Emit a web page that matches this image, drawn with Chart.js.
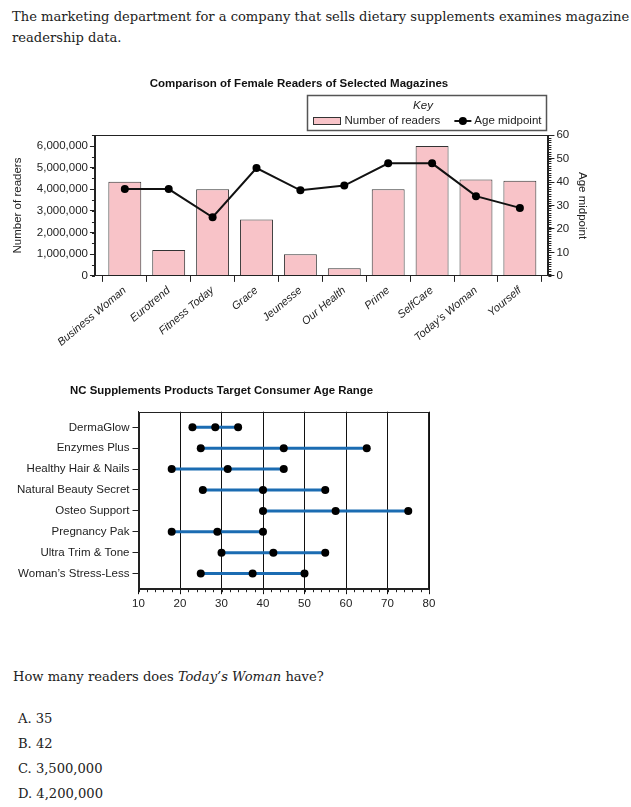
<!DOCTYPE html>
<html>
<head>
<meta charset="utf-8">
<script src="https://cdn.jsdelivr.net/npm/chart.js@4.4.1/dist/chart.umd.min.js"></script>
<style>
  body { margin: 0; background: #fff; width: 631px; height: 807px; position: relative; overflow: hidden;
         font-family: "DejaVu Serif", Georgia, serif; color: #222; }
  .intro { position: absolute; left: 12px; top: 6px; font-size: 13.1px; line-height: 21px; white-space: nowrap; }
  .question { position: absolute; left: 13px; top: 666px; font-size: 13.1px; line-height: 21px; }
  .options { position: absolute; left: 18px; top: 706px; font-size: 13.1px; line-height: 25px; }
  #readersChart { position: absolute; left: 0; top: 70px; }
  #ageChart { position: absolute; left: 0; top: 380px; }
</style>
</head>
<body>
<div class="intro">The marketing department for a company that sells dietary supplements examines magazine<br>readership data.</div>
<canvas id="readersChart" width="606" height="285"></canvas>
<canvas id="ageChart" width="452" height="240"></canvas>
<div class="question">How many readers does <i>Today’s Woman</i> have?</div>
<div class="options">A. 35<br>B. 42<br>C. 3,500,000<br>D. 4,200,000</div>

<script>
// magazine readership
const magazines = ['Business Woman', 'Eurotrend', 'Fitness Today', 'Grace', 'Jeunesse',
                   'Our Health', 'Prime', 'SelfCare', 'Today’s Woman', 'Yourself'];
const readers = [4350000, 1200000, 4000000, 2600000, 1000000, 350000, 4000000, 6000000, 4450000, 4400000];
const ageMidpoints = [37, 37, 25, 46, 36.5, 38.5, 48, 48, 34, 29];
const readerTicks = [0, 1000000, 2000000, 3000000, 4000000, 5000000, 6000000];

// target age ranges
const products = ['DermaGlow', 'Enzymes Plus', 'Healthy Hair & Nails', 'Natural Beauty Secret',
                  'Osteo Support', 'Pregnancy Pak', 'Ultra Trim & Tone', 'Woman’s Stress-Less'];
const minAge = [23, 25, 18, 25.5, 40, 18, 30, 25];
const midAge = [28.5, 45, 31.5, 40, 57.5, 29, 42.5, 37.5];
const maxAge = [34, 65, 45, 55, 75, 40, 55, 50];

const SANS = '"Liberation Sans", Arial, sans-serif';
Chart.defaults.font.family = SANS;
Chart.defaults.color = '#222';

// box round the plot area
const frame = {
  id: 'frame',
  afterDraw(chart) {
    const { ctx, chartArea: a } = chart;
    ctx.save();
    ctx.strokeStyle = '#222';
    ctx.lineWidth = 1;
    const l = Math.round(a.left) + 0.5, t = Math.round(a.top) + 0.5;
    const r = Math.round(a.right) - 0.5, b = Math.round(a.bottom) - 0.5;
    ctx.strokeRect(l, t, r - l, b - t);
    ctx.restore();
  }
};

// small unlabelled ticks between the major ones
const minorTicks = {
  id: 'minorTicks',
  afterDraw(chart, args, opts) {
    const { ctx, chartArea: a } = chart;
    ctx.save();
    ctx.strokeStyle = '#222';
    ctx.lineWidth = 1;
    ctx.beginPath();
    (opts.list || []).forEach(m => {
      const s = chart.scales[m.scale];
      for (let v = s.min; v <= s.max + 1e-9; v += m.step) {
        const p = Math.round(s.getPixelForValue(v)) + 0.5;
        if (s.isHorizontal()) {
          ctx.moveTo(p, a.bottom); ctx.lineTo(p, a.bottom + m.len);
        } else if (s.position === 'left') {
          ctx.moveTo(a.left, p); ctx.lineTo(a.left - m.len, p);
        } else {
          ctx.moveTo(a.right, p); ctx.lineTo(a.right + m.len, p);
        }
      }
    });
    ctx.stroke();
    ctx.restore();
  }
};

// the "Key" box above the plot
const keyBox = {
  id: 'keyBox',
  afterDraw(chart) {
    const { ctx, chartArea: a } = chart;
    const barSet = chart.data.datasets[1], lineSet = chart.data.datasets[0];
    ctx.save();
    ctx.font = '11.5px ' + SANS;
    const w1 = ctx.measureText(barSet.label).width;
    const w2 = ctx.measureText(lineSet.label).width;
    const width = 6 + 27 + 4 + w1 + 14 + 17 + 3 + w2 + 6;
    const right = Math.round(a.right) - 1.5;
    const left = Math.round(right - width) + 0.5;
    const bottom = Math.round(a.top) - 4.5, top = bottom - 35;
    ctx.strokeStyle = '#555';
    ctx.lineWidth = 1.5;
    ctx.strokeRect(left, top, right - left, bottom - top);

    ctx.fillStyle = '#222';
    ctx.textBaseline = 'middle';
    ctx.textAlign = 'center';
    ctx.font = 'italic 11.5px ' + SANS;
    ctx.fillText('Key', (left + right) / 2 - 4, top + 10.5);

    const rowY = top + 25.5;
    ctx.font = '11.5px ' + SANS;
    ctx.textAlign = 'left';
    let x = left + 6;
    ctx.fillStyle = barSet.backgroundColor;
    ctx.fillRect(x, rowY - 3.5, 27, 7);
    ctx.strokeStyle = '#333';
    ctx.lineWidth = 1;
    ctx.strokeRect(x, rowY - 3.5, 27, 7);
    x += 27 + 4;
    ctx.fillStyle = '#222';
    ctx.fillText(barSet.label, x, rowY);
    x += w1 + 14;
    ctx.strokeStyle = '#111';
    ctx.lineWidth = 2;
    ctx.beginPath();
    ctx.moveTo(x, rowY); ctx.lineTo(x + 17, rowY);
    ctx.stroke();
    ctx.beginPath();
    ctx.arc(x + 8.5, rowY, 4, 0, Math.PI * 2);
    ctx.fillStyle = '#000';
    ctx.fill();
    x += 17 + 3;
    ctx.fillStyle = '#222';
    ctx.fillText(lineSet.label, x, rowY);
    ctx.restore();
  }
};

new Chart(document.getElementById('readersChart'), {
  type: 'bar',
  data: {
    datasets: [{
      type: 'line',
      label: 'Age midpoint',
      data: ageMidpoints.map((v, i) => ({ x: i, y: v })),
      yAxisID: 'y1',
      borderColor: '#111',
      borderWidth: 2,
      pointRadius: 4,
      pointBorderWidth: 0,
      pointBackgroundColor: '#000',
      tension: 0
    }, {
      label: 'Number of readers',
      data: readers.map((v, i) => ({ x: i, y: v })),
      yAxisID: 'y',
      backgroundColor: '#f8c3c8',
      borderColor: '#333',
      borderWidth: 1,
      barPercentage: 0.75,
      categoryPercentage: 1
    }]
  },
  options: {
    responsive: false,
    animation: false,
    devicePixelRatio: 1,
    layout: { padding: { left: 7, right: 15, top: 0, bottom: 4 } },
    plugins: {
      legend: { display: false },
      tooltip: { enabled: false },
      title: {
        display: true,
        text: 'Comparison of Female Readers of Selected Magazines',
        font: { size: 11.5, weight: 'bold' },
        color: '#111',
        padding: { top: 7, bottom: 44.4 }
      },
      minorTicks: { list: [{ scale: 'y', step: 500000, len: 3 }, { scale: 'y1', step: 1, len: 3 }] }
    },
    scales: {
      x: {
        type: 'linear',
        offset: false,
        min: -0.68,
        max: 9.65,
        afterBuildTicks: s => { s.ticks = magazines.map((_, i) => ({ value: i })); },
        ticks: {
          autoSkip: false,
          minRotation: 40,
          maxRotation: 40,
          padding: 2,
          font: { size: 11, style: 'italic' },
          callback: v => magazines[v]
        },
        grid: { drawOnChartArea: false, tickLength: 6, color: '#222' },
        border: { color: '#222' }
      },
      y: {
        position: 'left',
        min: 0,
        max: 6500000,
        afterBuildTicks: s => { s.ticks = readerTicks.map(v => ({ value: v })); },
        ticks: {
          padding: 2,
          font: { size: 11.5 },
          callback: v => v.toLocaleString('en-US')
        },
        grid: { drawOnChartArea: false, tickLength: 5, color: '#222' },
        border: { color: '#222' },
        title: { display: true, text: 'Number of readers', font: { size: 11.5 }, padding: { top: 4, bottom: 10 } }
      },
      y1: {
        position: 'right',
        min: 0,
        max: 60,
        ticks: { stepSize: 10, padding: 2, font: { size: 11.5 } },
        grid: { drawOnChartArea: false, tickLength: 6, color: '#222' },
        border: { color: '#222' },
        title: { display: true, text: 'Age midpoint', font: { size: 11.5 }, padding: { top: 2, bottom: 4 } }
      }
    }
  },
  plugins: [frame, minorTicks, keyBox]
});

new Chart(document.getElementById('ageChart'), {
  type: 'scatter',
  data: {
    datasets: products.map((p, i) => ({
      label: p,
      data: [{ x: minAge[i], y: i }, { x: midAge[i], y: i }, { x: maxAge[i], y: i }],
      showLine: true,
      borderColor: '#1b6cb2',
      borderWidth: 3,
      pointRadius: 4,
      pointBorderWidth: 0,
      pointBackgroundColor: '#000'
    }))
  },
  options: {
    responsive: false,
    animation: false,
    devicePixelRatio: 1,
    layout: { padding: { left: 14, right: 23, top: 0, bottom: 6 } },
    plugins: {
      legend: { display: false },
      tooltip: { enabled: false },
      title: {
        display: true,
        text: 'NC Supplements Products Target Consumer Age Range',
        font: { size: 11.4, weight: 'bold' },
        color: '#111',
        padding: { top: 4, bottom: 14 }
      },
      minorTicks: { list: [{ scale: 'x', step: 2, len: 3 }] }
    },
    scales: {
      x: {
        min: 10,
        max: 80,
        ticks: { stepSize: 10, padding: 3, font: { size: 11.5 } },
        grid: { color: '#111', tickLength: 5 },
        border: { color: '#222' }
      },
      y: {
        reverse: true,
        min: -0.75,
        max: 7.75,
        afterBuildTicks: s => { s.ticks = products.map((_, i) => ({ value: i })); },
        ticks: { autoSkip: false, padding: 3, font: { size: 11.5 }, callback: v => products[v] },
        grid: { drawOnChartArea: false, tickLength: 6, color: '#222' },
        border: { color: '#222' }
      }
    }
  },
  plugins: [frame, minorTicks]
});
</script>
</body>
</html>
